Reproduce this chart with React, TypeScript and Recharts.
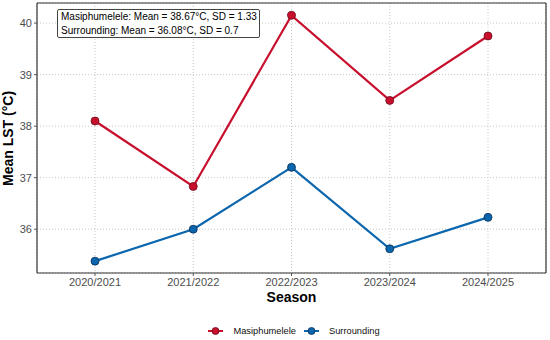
import { LineChart, Line, XAxis, YAxis, CartesianGrid, Legend } from "recharts"

const seasons = ["2020/2021", "2021/2022", "2022/2023", "2023/2024", "2024/2025"]
const masiphumelele = [38.1, 36.83, 40.15, 38.5, 39.75]
const surrounding = [35.38, 36.0, 37.2, 35.62, 36.23]
const yTicks = [36, 37, 38, 39, 40]
const statLines = [
  "Masiphumelele: Mean = 38.67°C, SD = 1.33",
  "Surrounding: Mean = 36.08°C, SD = 0.7",
]

const RED = "#c8102e"
const BLUE = "#0b66ad"

const data = seasons.map((s, i) => ({
  season: s,
  Masiphumelele: masiphumelele[i],
  Surrounding: surrounding[i],
}))

const legendItems = [
  { name: "Masiphumelele", color: RED, edge: "#6b0a18" },
  { name: "Surrounding", color: BLUE, edge: "#0a2f55" },
]

const LegendContent = () => (
  <div style={{ display: "flex", justifyContent: "center", gap: 8, fontSize: 9.3, color: "#111", marginLeft: 42, marginTop: 13 }}>
    {legendItems.map(it => (
      <div key={it.name} style={{ display: "flex", alignItems: "center" }}>
        <svg width={15} height={10} style={{ marginRight: 10 }}>
          <line x1={0} y1={5} x2={15} y2={5} stroke={it.color} strokeWidth={2} />
          <circle cx={7.5} cy={5} r={3.5} fill={it.color} stroke={it.edge} strokeWidth={0.8} />
        </svg>
        <span>{it.name}</span>
      </div>
    ))}
  </div>
)

const App = () => {
  return (
    <div style={{ position: "absolute", left: 0, top: 0, width: 550, height: 340, fontFamily: "'Liberation Sans', Arial, sans-serif", background: "#fff" }}>
      <LineChart width={550} height={340} data={data} margin={{ top: 3, right: 4, left: 0, bottom: 0 }}>
        <CartesianGrid stroke="#c8c8c8" strokeDasharray="1 2" />
        <CartesianGrid
          stroke="#333"
          strokeWidth={1.2}
          horizontalCoordinatesGenerator={({ offset }: any) => [offset.top, offset.top + offset.height]}
          verticalCoordinatesGenerator={({ offset }: any) => [offset.left, offset.left + offset.width]}
        />
        <XAxis
          dataKey="season"
          padding={{ left: 58, right: 58 }}
          height={40}
          axisLine={false}
          tickSize={3}
          tickLine={{ stroke: "#555" }}
          tick={{ fill: "#4d4d4d", fontSize: 11 }}
          tickMargin={2}
          label={{ value: "Season", position: "insideBottom", offset: 11, fill: "#000", fontSize: 14, fontWeight: "bold" }}
        />
        <YAxis
          width={37}
          domain={[35.15, 40.39]}
          ticks={yTicks}
          allowDataOverflow
          axisLine={false}
          tickSize={3}
          tickLine={{ stroke: "#555" }}
          tick={{ fill: "#4d4d4d", fontSize: 11 }}
          tickMargin={2}
          label={{ value: "Mean LST (°C)", angle: -90, position: "insideLeft", offset: 8, dy: 48, fill: "#000", fontSize: 14, fontWeight: "bold" }}
        />
        <Legend verticalAlign="bottom" height={27} content={<LegendContent />} />
        <Line
          dataKey="Masiphumelele"
          stroke={RED}
          strokeWidth={2.2}
          dot={{ r: 4, fill: RED, stroke: "#6b0a18", strokeWidth: 0.8 }}
          activeDot={false}
          isAnimationActive={false}
        />
        <Line
          dataKey="Surrounding"
          stroke={BLUE}
          strokeWidth={2.2}
          dot={{ r: 4, fill: BLUE, stroke: "#0a2f55", strokeWidth: 0.8 }}
          activeDot={false}
          isAnimationActive={false}
        />
      </LineChart>
      <div
        style={{
          position: "absolute",
          left: 57,
          top: 9,
          width: 198,
          height: 27,
          border: "1px solid #444",
          borderRadius: 2,
          background: "#fff",
          fontSize: 10,
          lineHeight: "13.5px",
          padding: "0 0 0 3px",
          color: "#000",
          boxSizing: "content-box",
        }}
      >
        {statLines.map(t => (
          <div key={t} style={{ whiteSpace: "nowrap" }}>{t}</div>
        ))}
      </div>
    </div>
  )
}

export default App
